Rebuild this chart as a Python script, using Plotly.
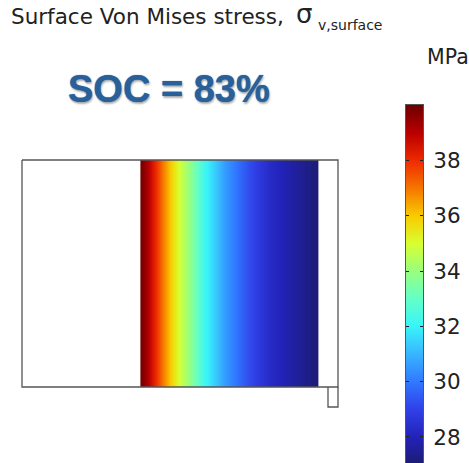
import plotly.graph_objects as go

# Surface stress read along the cell width (position on drawing scale, MPa)
position = [140.6, 141, 145, 149, 153, 158, 162, 166, 170, 174, 178, 184, 190, 197, 205, 214, 223, 235, 247, 258, 270, 285, 300, 317.6, 318]
stress = [39.9, 39.9, 39.4, 38.9, 38.3, 37.6, 37.0, 36.5, 36.0, 35.5, 35.0, 34.4, 33.8, 33.0, 32.1, 31.4, 30.7, 30.0, 29.3, 28.8, 28.3, 27.9, 27.5, 27.1, 27.1]

# Colour bar
bar_values = [27.05, 27.5, 28, 28.5, 29, 29.5, 30, 30.5, 31, 31.5, 32, 32.5, 33, 33.5, 34, 34.5, 35, 35.5, 36, 36.5, 37, 37.5, 38, 38.5, 39, 39.5, 40]
tick_values = [28, 30, 32, 34, 36, 38]
tick_labels = ["28", "30", "32", "34", "36", "38"]

# Rainbow colours per value
color_values = [27, 28, 29, 30, 31, 32, 33, 34, 35, 36, 37, 38, 39, 40]
color_hex = ["#1c1c70", "#2222b8", "#3040e8", "#3078ff", "#38b4ff", "#38f4fa", "#62ffc8",
             "#98ff80", "#d8ff30", "#f8cc00", "#f67600", "#ee2a00", "#bb0000", "#6e0000"]

# Geometry outline (drawing scale)
outer_x = [22, 338, 338, 22, 22]
outer_y = [160, 160, 387, 387, 160]
notch_x = [328, 328, 338, 338]
notch_y = [387, 407, 407, 387]
band_y = [160, 387]

vmin, vmax = color_values[0], color_values[-1]
colorscale = [[(v - vmin) / (vmax - vmin), c] for v, c in zip(color_values, color_hex)]

W, H = 469, 463
fig = go.Figure()
fig.add_trace(go.Heatmap(x=position, y=band_y, z=[stress], zmin=vmin, zmax=vmax,
                         colorscale=colorscale, showscale=False, zsmooth="best",
                         hoverinfo="skip", xaxis="x", yaxis="y"))
line = dict(color="#555555", width=1.3)
fig.add_trace(go.Scatter(x=outer_x, y=outer_y, mode="lines", line=line, showlegend=False, xaxis="x", yaxis="y"))
fig.add_trace(go.Scatter(x=notch_x, y=notch_y, mode="lines", line=line, showlegend=False, xaxis="x", yaxis="y"))
fig.add_trace(go.Heatmap(x=[0, 1], y=bar_values, z=[[v, v] for v in bar_values], zmin=vmin, zmax=vmax,
                         colorscale=colorscale, showscale=False, zsmooth="best",
                         hoverinfo="skip", xaxis="x2", yaxis="y2"))

title_color = "#222222"
fig.update_layout(
    width=W, height=H, margin=dict(l=0, r=0, t=0, b=0), showlegend=False,
    paper_bgcolor="white", plot_bgcolor="rgba(0,0,0,0)",
    xaxis=dict(domain=[0, 1], range=[0, W], visible=False, fixedrange=True),
    yaxis=dict(domain=[0, 1], range=[H, 0], visible=False, fixedrange=True),
    xaxis2=dict(domain=[406 / W, 423 / W], range=[0, 1], showticklabels=False, ticks="",
                showline=True, linecolor="#555555", linewidth=1, mirror=True, showgrid=False,
                zeroline=False, anchor="y2", fixedrange=True),
    yaxis2=dict(domain=[0, (H - 105) / H], range=[27.06, 40], side="right", anchor="x2",
                tickvals=tick_values, ticktext=tick_labels, ticks="inside", ticklen=3, tickwidth=1,
                tickcolor="#222222", mirror="ticks", showline=True, linecolor="#555555", linewidth=1,
                showgrid=False, zeroline=False, fixedrange=True, ticklabelstandoff=5,
                tickfont=dict(family="DejaVu Sans", size=21.5, color=title_color)),
    annotations=[
        dict(text="Surface Von Mises stress,", x=9, y=16, xref="x", yref="y", xanchor="left", yanchor="middle",
             showarrow=False, font=dict(family="DejaVu Sans", size=21.5, color=title_color)),
        dict(text="σ", x=294, y=14, xref="x", yref="y", xanchor="left", yanchor="middle",
             showarrow=False, font=dict(family="DejaVu Sans", size=26, color=title_color)),
        dict(text="v,surface", x=316, y=25, xref="x", yref="y", xanchor="left", yanchor="middle",
             showarrow=False, font=dict(family="DejaVu Sans", size=14, color=title_color)),
        dict(text="MPa", x=425, y=57, xref="x", yref="y", xanchor="left", yanchor="middle",
             showarrow=False, font=dict(family="DejaVu Sans", size=20.5, color=title_color)),
        dict(text="<b>SOC = 83%</b>", x=168.5, y=89, xref="x", yref="y", xanchor="center", yanchor="middle",
             showarrow=False, font=dict(family="Liberation Sans", size=38, color="#2a6099",
                                        shadow="0 0 1px #2a6099, 1px 2px 2px rgba(0,0,0,0.3)")),
    ],
)
fig.write_html("out.html", post_script="document.body.style.margin='0';", config={"displayModeBar": False})
